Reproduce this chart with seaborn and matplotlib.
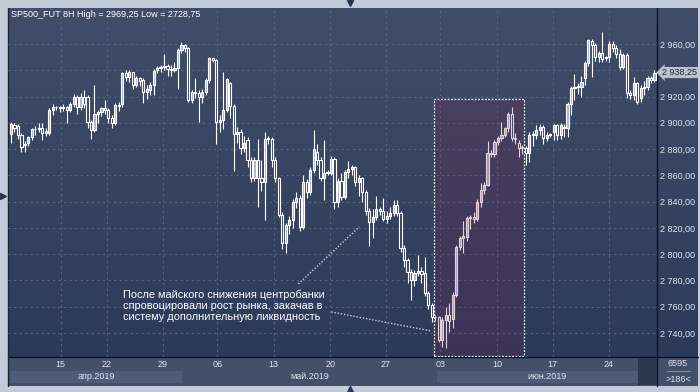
import numpy as np
import pandas as pd
import matplotlib
matplotlib.use('Agg')
import matplotlib.pyplot as plt
import seaborn as sns
from matplotlib.patches import Rectangle
from matplotlib.colors import LinearSegmentedColormap
from matplotlib.transforms import blended_transform_factory

# ----------------------------------------------------------------------
# Data: SP500 futures, 8H bars
# ----------------------------------------------------------------------
opens = [2891.5, 2898, 2897.5, 2890.5, 2884, 2884.5, 2889, 2895, 2895, 2896,
         2892, 2892, 2910, 2912, 2912, 2911, 2912, 2910, 2914, 2920,
         2912, 2920, 2920, 2900.5, 2894.5, 2906.5, 2908, 2911, 2910, 2904,
         2900, 2913, 2914, 2938, 2935, 2938.5, 2929, 2934, 2932.5, 2923.5,
         2925, 2929, 2940, 2942, 2942.5, 2943, 2941, 2940, 2942, 2955.5,
         2959, 2957, 2917.5, 2923.5, 2923, 2920, 2923.5, 2932.5, 2949, 2948,
         2900.5, 2902, 2910, 2930, 2912.5, 2891.5, 2893, 2881, 2887, 2872,
         2858, 2872, 2858, 2855, 2888, 2888, 2872, 2858, 2830, 2808.5,
         2822, 2826, 2840, 2843, 2821, 2855, 2847, 2864, 2878, 2872,
         2858, 2862, 2862, 2872.5, 2840, 2856, 2843.5, 2862.5, 2865, 2866,
         2855, 2858, 2847, 2833, 2824.5, 2828, 2834, 2833, 2827, 2829,
         2831, 2837.5, 2831, 2805, 2795.5, 2786.5, 2780, 2786, 2787, 2786,
         2770.5, 2761, 2752, 2752, 2735, 2750, 2754, 2751, 2769, 2805.5,
         2812, 2813, 2827.5, 2828, 2827, 2840, 2849, 2853, 2877, 2876,
         2885.5, 2888.5, 2891, 2896, 2906.5, 2888.5, 2885, 2881, 2881, 2877,
         2891, 2891, 2894.5, 2897, 2888.5, 2891, 2893, 2898, 2890.5, 2897,
         2896, 2914, 2926.5, 2927, 2927, 2934, 2945.5, 2962, 2959, 2950,
         2953, 2949, 2950, 2960, 2957, 2952, 2942.5, 2951.5, 2923, 2921,
         2930, 2919, 2926.5, 2927, 2934, 2932.5]
highs = [2900.5, 2900, 2899, 2892, 2886, 2890, 2896, 2897.5, 2900, 2900,
         2896, 2911, 2914, 2913, 2913, 2914, 2913, 2916, 2922, 2921,
         2923, 2925, 2921, 2902, 2929, 2910, 2912, 2917, 2911, 2906,
         2915, 2916, 2939, 2940, 2940, 2939, 2936, 2935, 2934, 2929,
         2931, 2941, 2943, 2944, 2952, 2945, 2944, 2946, 2957, 2961.5,
         2960, 2958, 2925, 2934, 2925, 2926, 2934, 2950, 2949.5, 2948.5,
         2906, 2938.5, 2934, 2931, 2914, 2897, 2895, 2890, 2889, 2874,
         2874, 2888, 2872, 2893, 2890, 2889, 2874, 2859, 2832, 2824,
         2829, 2842, 2847, 2845, 2860, 2857, 2866, 2894.5, 2884, 2874,
         2887, 2864, 2875, 2874, 2858, 2862, 2864, 2871, 2868, 2867,
         2860, 2859, 2849, 2835, 2834, 2844, 2836, 2843, 2833, 2836,
         2841, 2841, 2833, 2807, 2797, 2789, 2788, 2799, 2790, 2798,
         2772, 2763, 2754, 2753, 2752, 2760, 2763, 2771, 2807, 2814,
         2825, 2829, 2830, 2832, 2842, 2854, 2855, 2886, 2879, 2887,
         2890, 2900.5, 2897, 2908, 2912, 2892, 2887, 2883, 2882, 2893,
         2894, 2898, 2899, 2898, 2893, 2892, 2899, 2899, 2900, 2899,
         2916, 2928, 2937, 2930, 2936, 2947, 2964, 2964, 2961, 2955,
         2969.25, 2951, 2962, 2962, 2959, 2956, 2953, 2953, 2925, 2935,
         2931, 2929, 2932, 2936, 2936, 2940]
lows = [2884.5, 2893, 2888, 2877.5, 2878, 2882, 2887, 2891, 2893, 2887,
        2890, 2891, 2906, 2910, 2908, 2909, 2900, 2908, 2912, 2907,
        2910, 2911, 2896, 2888, 2893, 2900, 2905, 2907, 2900, 2896,
        2898, 2909, 2912, 2932, 2931, 2926, 2927, 2928, 2915, 2918,
        2921, 2921, 2938, 2939, 2940, 2936, 2936, 2939, 2926, 2953,
        2954, 2916, 2915, 2919, 2900.5, 2915, 2921, 2930, 2946, 2884,
        2893, 2895, 2908, 2904, 2863, 2885, 2876, 2878, 2866, 2855,
        2856, 2836, 2848, 2826, 2884, 2866, 2855, 2828, 2804, 2800.5,
        2815, 2820, 2835, 2818, 2819, 2843, 2845, 2862, 2868, 2856,
        2841, 2860, 2860, 2834, 2836, 2841, 2842, 2858, 2860, 2852,
        2844, 2840, 2830, 2806, 2812, 2826, 2830, 2825, 2824, 2827,
        2829, 2829, 2802, 2790, 2778, 2765, 2776, 2783, 2778, 2768,
        2758, 2748, 2749, 2733, 2729, 2728.75, 2741, 2744, 2767, 2803,
        2801, 2810, 2819, 2824, 2825, 2836, 2846, 2852, 2874, 2874,
        2883, 2886, 2889, 2893, 2886, 2884, 2874, 2876, 2868, 2870,
        2882, 2888, 2891, 2884, 2886, 2889, 2887, 2887, 2888, 2889,
        2889, 2906, 2917, 2922, 2920, 2929, 2943, 2935, 2947, 2946,
        2946, 2947, 2946, 2954, 2949, 2940, 2941, 2919, 2918, 2917,
        2914, 2916, 2921, 2925, 2930, 2931]
closes = [2899, 2896, 2890.5, 2881.5, 2883, 2889, 2895, 2895, 2896, 2892,
          2894, 2910, 2912, 2912, 2911, 2912, 2910, 2914, 2920, 2912,
          2920, 2914, 2900.5, 2894.5, 2906.5, 2908, 2911, 2910, 2904, 2900,
          2913.5, 2913, 2938, 2935, 2938.5, 2929, 2934, 2932, 2923.5, 2926,
          2929, 2939.5, 2942, 2942.5, 2943, 2941, 2940, 2942, 2955.5, 2959,
          2957, 2917.5, 2923.5, 2923, 2920, 2923.5, 2932.5, 2949, 2948, 2900.5,
          2902, 2910, 2933, 2912.5, 2891.5, 2893, 2881, 2885, 2872, 2858,
          2872, 2858, 2855, 2888, 2888, 2872, 2858, 2830, 2808.5, 2822,
          2826, 2840, 2843, 2821, 2855, 2847, 2864, 2880, 2872, 2858,
          2862, 2862, 2872.5, 2840, 2856, 2843.5, 2862.5, 2865, 2866, 2855,
          2858, 2847, 2833, 2824.5, 2828, 2834, 2833, 2827, 2829, 2831,
          2837.5, 2831, 2805, 2795.5, 2786.5, 2780, 2786, 2787, 2785, 2770.5,
          2761, 2752, 2752, 2735, 2750, 2754, 2749, 2769, 2805.5, 2812,
          2814, 2827.5, 2828, 2827, 2840, 2849, 2853, 2877, 2876, 2885.5,
          2888.5, 2891, 2896, 2906.5, 2888.5, 2888, 2881, 2881, 2877, 2891,
          2891, 2894.5, 2897, 2888.5, 2891, 2891, 2898, 2890.5, 2898, 2896,
          2914, 2926.5, 2927, 2928, 2931, 2945.5, 2963, 2959, 2950, 2953,
          2948.5, 2950, 2960, 2957, 2952, 2942.5, 2951.5, 2923, 2921, 2930,
          2916, 2926.5, 2927, 2934, 2932.5, 2938.25]

# week starts (bar index) and their day labels
week_starts = [14.3, 27.5, 43.6, 59.3, 75.5, 91.8, 107.8, 123.4, 139.7, 155.7, 171.8]
week_labels = ['15', '22', '29', '06', '13', '20', '27', '03', '10', '17', '24']
month_labels = ['апр.2019', 'май.2019', 'июн.2019']
month_bounds = [-0.3, 49.2, 122.6, 185.8]
price_ticks = list(range(2740, 2961, 20))

title = 'SP500_FUT 8H High = 2969,25 Low = 2728,75'
note = ('После майского снижения центробанки\n'
        'спровоцировали рост рынка, закачав в\n'
        'систему дополнительную ликвидность')
rally_bars = (121.7, 147.6)      # highlighted June rally
rally_prices = (2722.5, 2918.0)
pointer_a = [(82.6, 2777.3), (100.1, 2820.7)]
pointer_b = [(92.1, 2756.0), (120.8, 2741.5)]
volume_text = '6595'
bars_text = '>186<'

df = pd.DataFrame({'open': opens, 'high': highs, 'low': lows, 'close': closes})
df['idx'] = np.arange(len(df))
df['up'] = df['close'] >= df['open']


def fmt_price(v):
    return f'{v:,.2f}'.replace(',', ' ').replace('.', ',')


# ----------------------------------------------------------------------
# Styling
# ----------------------------------------------------------------------
sns.set_style('dark')
plt.rcParams['font.family'] = ['Liberation Sans', 'DejaVu Sans']
TXT = '#dfe5ef'

W, H = 700, 392
fig = plt.figure(figsize=(7, 3.92), dpi=100, facecolor='#c2ccd9')

# background frame in pixel coordinates
bg = fig.add_axes([0, 0, 1, 1], zorder=0)
grad = np.linspace(0, 1, 256).reshape(-1, 1)
cmap = LinearSegmentedColormap.from_list('bg', ['#414d69', '#2c3a5a'])
bg.imshow(grad, cmap=cmap, extent=(8, 698, 357, 8), aspect='auto')
bg.add_patch(Rectangle((8, 357), 690, 29, fc='#43506a', ec='none'))
bg.add_patch(Rectangle((638, 358), 19, 27, fc='#2b374f', ec='none'))
bg.plot([8, 698], [357, 357], color='#0d1220', lw=1)
bg.plot([657, 657], [8, 386], color='#0d1220', lw=1)
bg.plot([8, 8], [8, 386], color='#1a2233', lw=1)
bg.plot([667, 690], [371, 371], color='#8c97aa', lw=0.6)
bg.text(678, 364, volume_text, color=TXT, fontsize=6.5, ha='center', va='center')
bg.text(678, 379, bars_text, color=TXT, fontsize=6.5, ha='center', va='center')
bg.plot([350], [3], marker='v', ms=5, color='#2a3550')
bg.plot([350], [389], marker='^', ms=5, color='#2a3550')
bg.plot([3], [196], marker='>', ms=5, color='#2a3550')
bg.set_xlim(0, W)
bg.set_ylim(H, 0)
bg.axis('off')

# main price axes
ax = fig.add_axes([8 / W, 1 - 357 / H, 649 / W, 349 / H], zorder=1)
ax.set_facecolor('none')
ax.set_xlim(-0.863, 185.72)
ax.set_ylim(2721.7, 2987.4)
for s in ax.spines.values():
    s.set_visible(False)

# price labels on the right; the one under the last-price tag is hidden
last = closes[-1]
ax.set_yticks(price_ticks)
ax.set_yticklabels(['' if abs(v - last) < 8 else fmt_price(v) for v in price_ticks])
ax.yaxis.tick_right()
ax.set_xticks(week_starts)
ax.set_xticklabels(week_labels)
ax.tick_params(axis='y', length=0, pad=2.5, labelsize=6.5, labelcolor=TXT)
ax.tick_params(axis='x', length=0, pad=2.2, labelsize=6.5, labelcolor=TXT)
ax.grid(True, color='#56647f', linestyle=(0, (2, 3)), linewidth=0.8)
ax.set_axisbelow(True)

# candles
up = df[df['up']]
dn = df[~df['up']]
ax.vlines(df['idx'], df['low'], df['high'], color='white', lw=0.8, zorder=2)
for sub, face in [(up, '#a9b8d4'), (dn, '#35425f')]:
    ax.bar(sub['idx'], np.maximum((sub['close'] - sub['open']).abs(), 0.4),
           bottom=np.minimum(sub['open'], sub['close']), width=0.62,
           color=face, edgecolor='white', linewidth=0.8, zorder=3)

# highlighted rally
ax.add_patch(Rectangle((rally_bars[0], rally_prices[0]), rally_bars[1] - rally_bars[0],
                       rally_prices[1] - rally_prices[0], fc='#7e1f48', alpha=0.2,
                       ec='none', zorder=4))
ax.add_patch(Rectangle((rally_bars[0], rally_prices[0]), rally_bars[1] - rally_bars[0],
                       rally_prices[1] - rally_prices[0], fill=False, ec='#f2eef2',
                       lw=0.9, linestyle=(0, (1.5, 1.2)), zorder=5))

# annotation
for seg in (pointer_a, pointer_b):
    xs, ys = zip(*seg)
    ax.plot(xs, ys, color='#c9cfda', lw=1, linestyle=(0, (1, 1.3)), zorder=5)
ax.text(0.1767, 0.194, note, transform=ax.transAxes, color='white', fontsize=7.9,
        va='top', ha='left', linespacing=1.12, zorder=6)
ax.text(0.0046, 0.981, title, transform=ax.transAxes, color='white', fontsize=6.5,
        va='center', ha='left', zorder=6)

# last price tag
ytr = blended_transform_factory(ax.transAxes, ax.transData)
ax.text(1.008, last, fmt_price(last), transform=ytr, color='#1f2a40',
        fontsize=6.5, va='center', ha='left', clip_on=False, zorder=7,
        bbox=dict(boxstyle='larrow,pad=0.12', fc='#b9c1cc', ec='none'))

# month bands under the date labels
xtr = blended_transform_factory(ax.transData, ax.transAxes)
band_fill = ['#4e5c79', None, '#4e5c79']
for name, a, b, fill in zip(month_labels, month_bounds[:-1], month_bounds[1:], band_fill):
    if fill:
        ax.add_patch(Rectangle((a, -0.0754), b - a, 0.0361, transform=xtr,
                               fc=fill, ec='none', clip_on=False, zorder=0))
    ax.text((a + b) / 2, -0.0573, name, transform=xtr, color=TXT, fontsize=6.5,
            ha='center', va='center', clip_on=False)
ax.add_patch(Rectangle((180.4, -0.08), 5.4, 0.078, transform=xtr, fc='#2b374f',
                       ec='none', clip_on=False, zorder=1))

fig.savefig('out.png', dpi=100, facecolor=fig.get_facecolor())
